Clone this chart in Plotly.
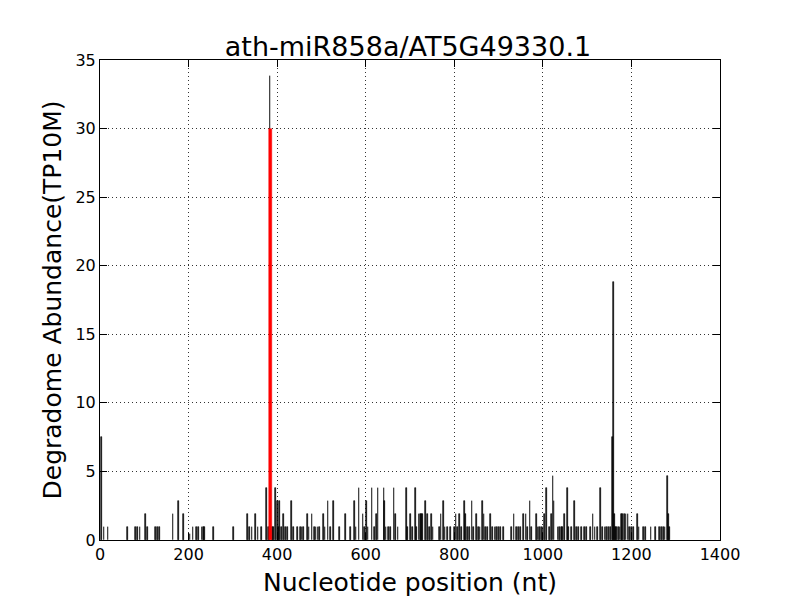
import plotly.graph_objects as go

positions = [3, 9, 18, 62, 80, 85, 90, 102, 107, 125, 130, 134, 165, 177, 189, 203, 210, 218, 223,
             230, 233, 236, 257, 302, 333, 338, 343, 351, 357, 364, 376, 380, 384, 389, 392, 396,
             400, 403, 406, 410, 415, 419, 424, 433, 437, 446,
             452, 456, 460, 468, 472, 479, 484, 488, 492, 496, 504, 508, 515, 520, 528, 541, 554,
             565, 574, 578, 585, 594, 598, 602, 605, 614, 620, 625, 628, 641, 643, 646, 651, 656,
             664, 667, 673, 692, 695, 701, 705, 712, 714, 720, 723, 726, 729, 735, 740, 744, 748,
             752, 767, 770, 775, 779, 785, 792, 801, 804, 808, 812, 817, 823, 826, 830, 834, 840,
             844, 850, 854, 858, 863, 867, 870, 875, 881, 886, 892, 896, 900, 905, 911, 929, 935,
             940, 945, 950, 957, 962, 966, 971, 975, 985, 989, 993, 997, 1000, 1004, 1008, 1015,
             1019, 1023, 1025, 1034, 1038, 1042, 1045, 1049, 1055, 1058, 1065, 1072, 1076, 1081,
             1087, 1094, 1099, 1108, 1113, 1118, 1124, 1130, 1134, 1140, 1144, 1148, 1152, 1157,
             1159, 1161, 1164, 1167, 1170, 1174, 1177, 1180, 1184, 1188, 1192, 1196, 1200, 1204,
             1213, 1217, 1228, 1232, 1244, 1254, 1263, 1268, 1272, 1276, 1281, 1284, 1286]
abundance = [7.52, 0.94, 0.94, 0.94, 0.94, 0.94, 0.94, 1.88, 0.94, 0.94, 0.94, 0.94, 1.88, 2.82, 1.88, 0.47, 0.94, 0.94, 0.94,
             0.94, 0.94, 0.94, 0.94, 0.94, 1.88, 0.94, 0.94, 1.88, 0.94, 0.94, 3.76, 0.94, 33.84, 0.94, 0.94, 3.76,
             2.82, 0.94, 2.82, 0.94, 1.88, 0.94, 0.94, 2.82, 0.94, 0.94,
             0.94, 0.94, 0.94, 1.88, 0.94, 1.88, 0.94, 0.94, 0.94, 0.94, 1.88, 0.94, 2.82, 0.94, 2.82, 0.94, 1.88,
             0.94, 2.82, 0.94, 3.76, 1.88, 0.94, 2.82, 0.94, 3.76, 0.94, 1.88, 3.76, 3.76, 2.82, 0.94, 0.94, 0.94,
             3.76, 1.88, 0.94, 3.76, 0.94, 1.88, 0.94, 3.76, 0.94, 1.88, 1.88, 1.88, 1.88, 2.82, 1.88, 0.94, 1.88,
             0.94, 0.94, 1.88, 2.82, 0.94, 0.94, 0.94, 0.94, 1.88, 0.94, 1.88, 0.94, 2.82, 1.88, 0.94, 0.94, 2.82,
             0.94, 1.88, 0.94, 0.94, 2.82, 1.88, 0.94, 0.94, 1.88, 0.94, 0.94, 0.94, 0.94, 0.94, 0.94, 0.94, 1.88,
             0.94, 0.94, 0.94, 1.88, 1.88, 0.94, 2.82, 0.94, 1.88, 0.94, 0.94, 0.94, 0.94, 1.88, 3.76, 0.94,
             1.88, 4.70, 2.82, 0.94, 0.94, 0.94, 0.94, 1.88, 3.76, 0.94, 0.94, 2.82, 0.94, 0.94,
             0.94, 0.94, 0.94, 0.94, 1.88, 0.94, 0.94, 3.76, 0.94, 0.94, 0.94, 0.94, 0.94, 7.52,
             18.80, 1.88, 0.94, 0.94, 0.94, 0.94, 1.88, 1.88, 1.88, 1.88, 1.88, 0.94, 0.94, 0.94,
             1.88, 0.94, 0.94, 0.94, 0.94, 0.94, 0.94, 0.94, 0.94, 0.94, 4.70, 1.88, 0.94]

target_position = [385]
target_abundance = [30.0]

x_ticks = [0, 200, 400, 600, 800, 1000, 1200, 1400]
y_ticks = [0, 5, 10, 15, 20, 25, 30, 35]

font_family = "DejaVu Sans"

fig = go.Figure()
fig.add_trace(go.Bar(
    x=positions, y=abundance, width=1.6,
    marker=dict(color="black", line=dict(color="black", width=0.6)),
    showlegend=False,
))
fig.add_trace(go.Bar(
    x=target_position, y=target_abundance, width=5,
    marker=dict(color="red", line=dict(color="red", width=0.5)),
    showlegend=False,
))

axis_common = dict(
    showline=True, linecolor="black", linewidth=1, mirror="allticks",
    ticks="inside", ticklen=7, tickcolor="black",
    showgrid=True, gridcolor="#333333", griddash="1px,3px", gridwidth=1,
    zeroline=False, automargin=False,
    tickfont=dict(family=font_family, size=16, color="black"),
)

# body of the html page has an 8px margin: compensate so the plot area sits at 100..720 x 60..540
fig.update_layout(
    width=800, height=600,
    barmode="overlay",
    bargap=0,
    paper_bgcolor="white", plot_bgcolor="white",
    margin=dict(l=92, r=88, t=52, b=68),
    title=dict(text="ath-miR858a/AT5G49330.1", x=0.5, xanchor="center", y=0.935, yanchor="middle",
               font=dict(family=font_family, size=27, color="black")),
    xaxis=dict(range=[0, 1400], tickvals=x_ticks, ticktext=[str(v) for v in x_ticks],
               title=dict(text="Nucleotide position (nt)", standoff=10,
                          font=dict(family=font_family, size=25, color="black")),
               **axis_common),
    yaxis=dict(range=[0, 35], tickvals=y_ticks, ticktext=[str(v) for v in y_ticks],
               title=dict(text="Degradome Abundance(TP10M)", standoff=6,
                          font=dict(family=font_family, size=25, color="black")),
               **axis_common),
)

fig.write_html("out.html")
